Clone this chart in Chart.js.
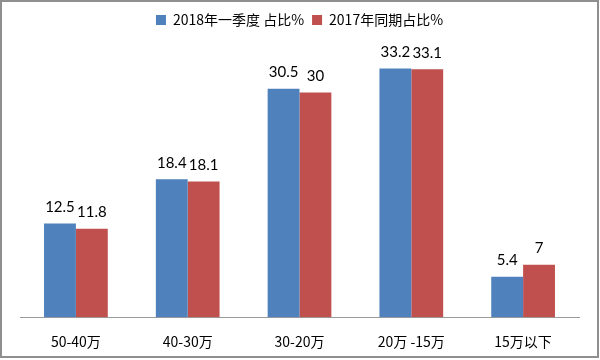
<!DOCTYPE html>
<html>
<head>
<meta charset="utf-8">
<script src="https://cdn.jsdelivr.net/npm/chart.js@4.4.0/dist/chart.umd.min.js"></script>
<style>
  html, body { margin: 0; padding: 0; background: #fff; }
  #wrap { width: 600px; height: 360px; }
</style>
</head>
<body>
<div id="wrap"><canvas id="myChart" width="600" height="360"></canvas></div>
<script>
var categories = ["50-40万", "40-30万", "30-20万", "20万 -15万", "15万以下"];
var share2018 = [12.5, 18.4, 30.5, 33.2, 5.4];
var share2017 = [11.8, 18.1, 30, 33.1, 7];
var seriesNames = ["2018年一季度 占比%", "2017年同期占比%"];

// value labels above bars
var barLabels = {
    id: "barLabels",
    afterDatasetsDraw: function (chart) {
        var ctx = chart.ctx;
        ctx.save();
        ctx.font = "15px Lato, 'Noto Sans', sans-serif";
        ctx.fillStyle = "#000";
        ctx.textAlign = "center";
        ctx.textBaseline = "bottom";
        chart.data.datasets.forEach(function (ds, i) {
            chart.getDatasetMeta(i).data.forEach(function (bar, j) {
                ctx.fillText(ds.data[j], bar.x, bar.y - 9);
            });
        });
        ctx.restore();
    }
};

// grey frame round the picture
var frame = {
    id: "frame",
    afterDraw: function (chart) {
        var ctx = chart.ctx;
        ctx.save();
        ctx.strokeStyle = "#8f8f8f";
        ctx.lineWidth = 2;
        ctx.strokeRect(1, 1, 597, 356);
        ctx.restore();
    }
};

new Chart("myChart", {
    type: "bar",
    data: {
        labels: categories,
        datasets: [{
            label: seriesNames[0],
            data: share2018,
            backgroundColor: "#4F81BD",
            borderWidth: 0
        }, {
            label: seriesNames[1],
            data: share2017,
            backgroundColor: "#C0504D",
            borderWidth: 0
        }]
    },
    options: {
        responsive: false,
        animation: false,
        layout: { padding: { left: 20, right: 21, top: 5, bottom: 2 } },
        categoryPercentage: 0.57,
        barPercentage: 1,
        plugins: {
            legend: {
                display: true,
                labels: {
                    boxWidth: 10,
                    boxHeight: 10,
                    padding: 8,
                    color: "#000",
                    font: { size: 14, family: "'Noto Sans CJK SC', sans-serif" }
                }
            },
            tooltip: { enabled: false }
        },
        scales: {
            x: {
                grid: { display: false },
                border: { display: true, color: "#9a9a9a", width: 1 },
                ticks: {
                    color: "#000",
                    padding: 8,
                    font: { size: 14, family: "'Noto Sans CJK SC', sans-serif" }
                }
            },
            y: {
                display: false,
                min: 0,
                max: 37.4
            }
        }
    },
    plugins: [barLabels, frame]
});
</script>
</body>
</html>
